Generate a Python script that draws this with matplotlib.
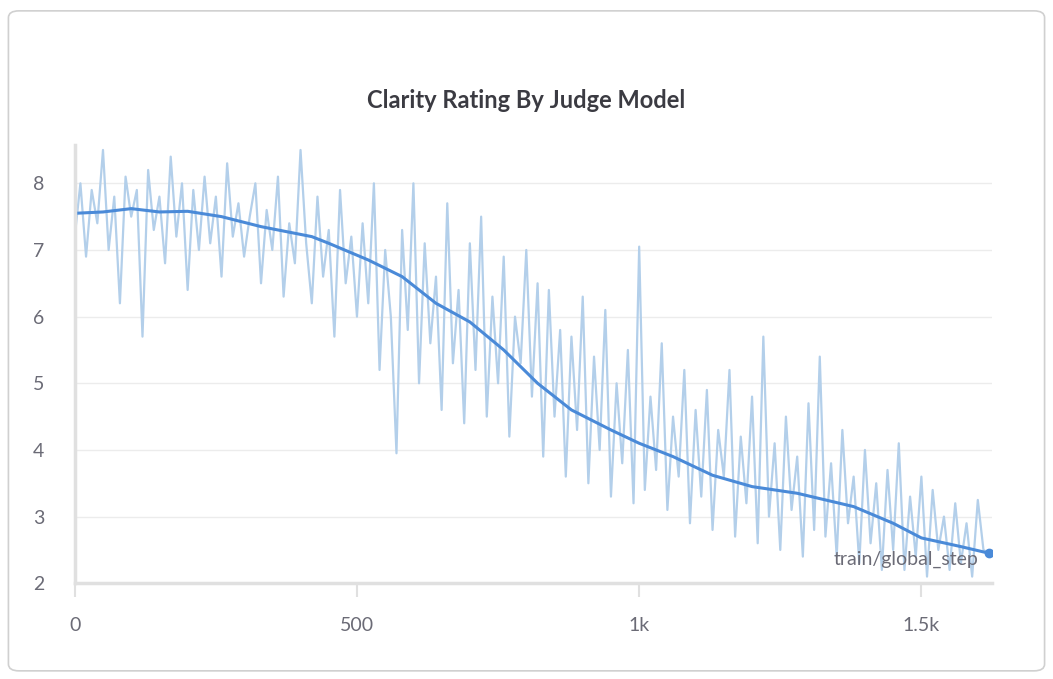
import matplotlib
matplotlib.use("Agg")
import matplotlib.pyplot as plt
from matplotlib.patches import FancyBboxPatch
import numpy as np

plt.rcParams['font.family'] = ['Lato', 'DejaVu Sans']

raw_values = [
    7.2, 8.0, 6.9, 7.9, 7.4, 8.5, 7.0, 7.8, 6.2, 8.1, 7.5,
    7.9, 5.7, 8.2, 7.3, 7.8, 6.8, 8.4, 7.2, 8.0, 6.4,
    7.9, 7.0, 8.1, 7.1, 7.8, 6.6, 8.3, 7.2, 7.7, 6.9,
    7.5, 8.0, 6.5, 7.6, 7.0, 8.1, 6.3, 7.4, 6.8, 8.5,
    7.1, 6.2, 7.8, 6.6, 7.3, 5.7, 7.9, 6.5, 7.2, 6.0,
    7.4, 6.2, 8.0, 5.2, 7.0, 6.0, 3.95, 7.3, 5.8, 8.0,
    5.0, 7.1, 5.6, 6.6, 4.6, 7.7, 5.3, 6.4, 4.4, 7.1,
    5.2, 7.5, 4.5, 6.3, 5.0, 6.9, 4.2, 6.0, 5.3, 7.0,
    4.8, 6.5, 3.9, 6.4, 4.5, 5.8, 3.6, 5.7, 4.3, 6.3,
    3.5, 5.4, 4.0, 6.1, 3.3, 5.0, 3.8, 5.5, 3.2, 7.05,
    3.4, 4.8, 3.7, 5.6, 3.1, 4.5, 3.6, 5.2, 2.9, 4.6,
    3.3, 4.9, 2.8, 4.3, 3.6, 5.2, 2.7, 4.2, 3.2, 4.8,
    2.6, 5.7, 3.0, 4.1, 2.5, 4.5, 3.1, 3.9, 2.4, 4.7,
    2.8, 5.4, 2.7, 3.8, 2.4, 4.3, 2.9, 3.6, 2.3, 4.0,
    2.6, 3.5, 2.2, 3.7, 2.5, 4.1, 2.2, 3.3, 2.4, 3.6,
    2.1, 3.4, 2.5, 3.0, 2.2, 3.2, 2.3, 2.9, 2.1, 3.25,
    2.5, 2.45,
]
raw_steps = np.arange(len(raw_values)) * 10

smooth_steps = [0, 50, 100, 150, 200, 260, 330, 420, 450, 520, 580, 640, 700,
                760, 820, 880, 950, 1000, 1060, 1130, 1200, 1280, 1380, 1450,
                1500, 1570, 1620]
smooth_values = [7.55, 7.57, 7.62, 7.57, 7.58, 7.5, 7.35, 7.2, 7.1, 6.85, 6.6,
                 6.2, 5.92, 5.5, 5.0, 4.6, 4.3, 4.1, 3.9, 3.62, 3.45, 3.35,
                 3.15, 2.9, 2.68, 2.55, 2.45]

fig = plt.figure(figsize=(10.53, 6.79), dpi=100)
border = FancyBboxPatch((0.008, 0.012), 0.984, 0.972,
                        boxstyle="round,pad=0,rounding_size=0.01",
                        transform=fig.transFigure, facecolor='white',
                        edgecolor='#d0d0d0', linewidth=1.2, zorder=-10)
fig.patches.append(border)
ax = fig.add_axes([0.071, 0.141, 0.871, 0.645])
ax.set_zorder(5)
ax.set_facecolor('none')

ax.plot(raw_steps, raw_values, color='#b3cfea', linewidth=1.6)
ax.plot(smooth_steps, smooth_values, color='#4a8ad8', linewidth=2.2)
ax.plot([smooth_steps[-1]], [smooth_values[-1]], 'o', color='#4a8ad8', ms=6)

ax.set_xlim(0, 1625)
ax.set_ylim(2, 8.57)
ax.set_yticks([2, 3, 4, 5, 6, 7, 8])
ax.set_xticks([0, 500, 1000, 1500])
ax.set_xticklabels(['0', '500', '1k', '1.5k'])
ax.grid(axis='y', color='#ececec', linewidth=1)
ax.set_axisbelow(True)
for s in ['top', 'right']:
    ax.spines[s].set_visible(False)
for s in ['left', 'bottom']:
    ax.spines[s].set_color('#e0e0e0')
    ax.spines[s].set_linewidth(2.5)
ax.tick_params(colors='#6b6b76', labelsize=14, length=10, width=1.5)
ax.tick_params(axis='x', color='#e0e0e0', pad=14)
ax.tick_params(axis='y', length=0, pad=22)

ax.text(0.985, 0.035, 'train/global_step', transform=ax.transAxes,
        ha='right', va='bottom', fontsize=14, color='#6b6b76')
fig.text(0.5, 0.852, 'Clarity Rating By Judge Model', ha='center', va='center',
         fontsize=17, fontweight='bold', color='#3b3b42')

fig.savefig('out.png', dpi=100)
